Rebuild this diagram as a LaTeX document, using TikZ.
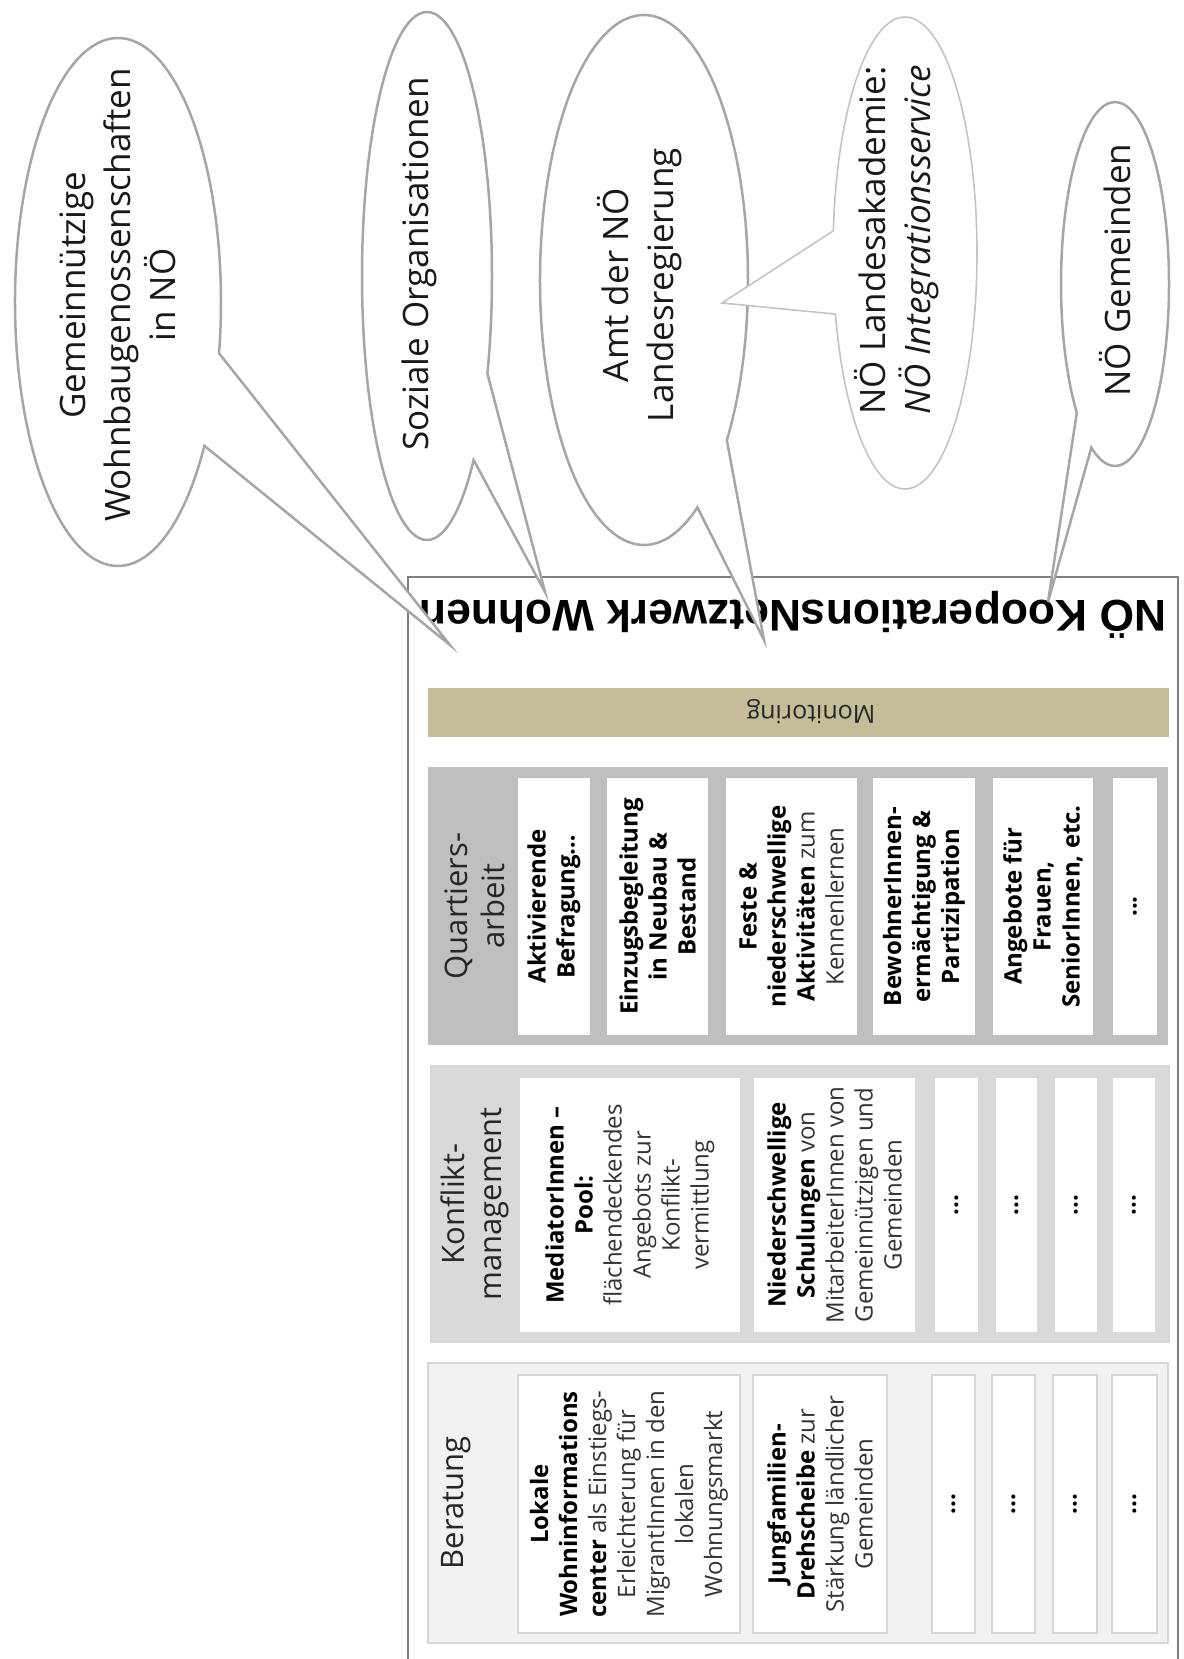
\documentclass[tikz,border=0pt]{standalone}
\usepackage{fontspec}
\setmainfont{Open Sans}
\newfontfamily\titlefont{Liberation Sans}
\usetikzlibrary{calc}
\definecolor{boxline}{HTML}{7F7F7F}
\definecolor{calloutline}{HTML}{A6A6A6}
\definecolor{calloutlight}{HTML}{C4C4C4}
\definecolor{monfill}{HTML}{C4BD97}
\definecolor{qfill}{HTML}{BFBFBF}
\definecolor{kfill}{HTML}{D9D9D9}
\definecolor{bfill}{HTML}{F2F2F2}
\definecolor{bline}{HTML}{D6D6D6}
\definecolor{celltext}{HTML}{333333}
\newcommand\mycell[7]{%
  \pgfmathsetmacro\mycellx{(#3+#5)/2}%
  \pgfmathsetmacro\mycelly{(#4+#6)/2}%
  \pgfmathsetmacro\mycellw{(#5-#3)*0.5}%
  \pgfmathsetmacro\mycellh{(#6-#4)*0.5}%
  \node[#1, minimum width=\mycellh pt, minimum height=\mycellw pt] (#2) at (\mycellx,\mycelly) {#7};}
\begin{document}
\begin{tikzpicture}[x=0.5pt,y=-0.5pt,
  cellbase/.style={rotate=90, inner sep=0pt, outer sep=0pt, align=center, fill=white,
    text=celltext, font=\fontsize{12}{14.5}\selectfont},
  qcell/.style={cellbase},
  kcell/.style={cellbase},
  bcell/.style={cellbase, draw=bline, line width=0.75pt},
  header/.style={rotate=90, align=center, inner sep=0pt, text=black!85,
    font=\fontsize{15.5}{18.5}\selectfont},
  callout/.style={draw=calloutline, line width=1.25pt, fill=white},
  calloutpale/.style={draw=calloutlight, line width=0.8pt, fill=white},
  callouttext/.style={rotate=90, align=center, inner sep=0pt, text=black!90,
    font=\fontsize{17.5}{22.5}\selectfont}]
\useasboundingbox (0,0) rectangle (1183,1659);
\clip (0,0) rectangle (1183,1659);
% main box
\draw[boxline, line width=1pt, fill=white] (408,577) rectangle (1178,1700);
\node[rotate=180, inner sep=0pt, font=\titlefont\bfseries\fontsize{22.2}{26}\selectfont] (title) at (793,615) {NÖ KooperationsNetzwerk Wohnen};
% monitoring
\fill[monfill] (428,688) rectangle (1169,737);
\node[rotate=180, inner sep=0pt, text=black!85, font=\fontsize{12.5}{15}\selectfont] (monitoring) at (811,712) {Monitoring};
% panels
\fill[qfill] (428,767) rectangle (1168,1045);
\fill[kfill] (430,1065) rectangle (1170,1343);
\filldraw[fill=bfill, draw=bline, line width=0.75pt] (428,1363) rectangle (1168,1643);
% headers
\node[header] (qhead) at (475,906) {Quartiers-\\arbeit};
\node[header] (khead) at (475,1204) {Konflikt-\\management};
\node[header] (bhead) at (456,1503) {Beratung};
% Quartiersarbeit cells
\mycell{qcell}{q1}{518}{778}{590}{1035}{\textbf{\color{black}Aktivierende}\\\textbf{\color{black}Befragung…}}
\mycell{qcell}{q2}{607}{778}{708}{1035}{\textbf{\color{black}Einzugsbegleitung}\\\textbf{\color{black}in Neubau \&}\\\textbf{\color{black}Bestand}}
\mycell{qcell}{q3}{726}{778}{857}{1035}{\textbf{\color{black}Feste \&}\\\textbf{\color{black}niederschwellige}\\\textbf{\color{black}Aktivitäten} zum\\Kennenlernen}
\mycell{qcell}{q4}{873}{778}{975}{1035}{\textbf{\color{black}BewohnerInnen-}\\\textbf{\color{black}ermächtigung \&}\\\textbf{\color{black}Partizipation}}
\mycell{qcell}{q5}{993}{778}{1093}{1035}{\textbf{\color{black}Angebote für}\\\textbf{\color{black}Frauen,}\\\textbf{\color{black}SeniorInnen, etc.}}
\mycell{qcell}{q6}{1113}{778}{1157}{1035}{\textbf{\color{black}...}}
% Konfliktmanagement cells
\mycell{kcell}{k1}{520}{1078}{740}{1332}{\textbf{\color{black}MediatorInnen –}\\\textbf{\color{black}Pool:}\\flächendeckendes\\Angebots zur\\Konflikt-\\vermittlung}
\mycell{kcell}{k2}{754}{1078}{915}{1332}{\textbf{\color{black}Niederschwellige}\\\textbf{\color{black}Schulungen} von\\MitarbeiterInnen von\\Gemeinnützigen und\\Gemeinden}
\mycell{kcell}{k3}{935}{1078}{978}{1332}{\textbf{\color{black}...}}
\mycell{kcell}{k4}{996}{1078}{1037}{1332}{\textbf{\color{black}...}}
\mycell{kcell}{k5}{1055}{1078}{1097}{1332}{\textbf{\color{black}...}}
\mycell{kcell}{k6}{1113}{1078}{1155}{1332}{\textbf{\color{black}...}}
% Beratung cells
\mycell{bcell}{b1}{518}{1375}{740}{1633}{\textbf{\color{black}Lokale}\\\textbf{\color{black}Wohninformations}\\\textbf{\color{black}center} als Einstiegs-\\Erleichterung für\\MigrantInnen in den\\lokalen\\Wohnungsmarkt}
\mycell{bcell}{b2}{753}{1375}{887}{1633}{\textbf{\color{black}Jungfamilien-}\\\textbf{\color{black}Drehscheibe} zur\\Stärkung ländlicher\\Gemeinden}
\mycell{bcell}{b3}{932}{1375}{975}{1633}{\textbf{\color{black}...}}
\mycell{bcell}{b4}{992}{1375}{1035}{1633}{\textbf{\color{black}...}}
\mycell{bcell}{b5}{1053}{1375}{1097}{1633}{\textbf{\color{black}...}}
\mycell{bcell}{b6}{1112}{1375}{1157}{1633}{\textbf{\color{black}...}}
% callouts
\coordinate (c1) at (118,302);  \coordinate (tip1) at (450,645);
\coordinate (c2) at (427,276);  \coordinate (tip2) at (545,592);
\coordinate (c3) at (644,280);  \coordinate (tip3) at (764,640);
\coordinate (c4) at (905,253);  \coordinate (tip4) at (722,303);
\coordinate (c5) at (1115,284); \coordinate (tip5) at (1048,602);
\draw[callout] (tip1) -- ($(c1)+(33:103 and 264)$) arc[start angle=33, end angle=371.2, x radius=103, y radius=264] -- cycle;
\draw[callout] (tip2) -- ($(c2)+(44.2:65 and 264)$) arc[start angle=44.2, end angle=381.7, x radius=65, y radius=264] -- cycle;
\draw[callout] (tip3) -- ($(c3)+(59.1:104 and 265)$) arc[start angle=59.1, end angle=397.2, x radius=104, y radius=265] -- cycle;
\draw[calloutpale] (tip4) -- ($(c4)+(185.4:72 and 236)$) arc[start angle=185.4, end angle=525, x radius=72, y radius=236] -- cycle;
\draw[callout] (tip5) -- ($(c5)+(135:54 and 182)$) arc[start angle=135, end angle=476, x radius=54, y radius=182] -- cycle;
% callout texts
\node[callouttext] (t1) at (118,295) {Gemeinnützige\\Wohnbaugenossenschaften\\in NÖ};
\node[callouttext] (t2) at (419,264) {Soziale Organisationen};
\node[callouttext] (t3) at (640,285) {Amt der NÖ\\Landesregierung};
\node[callouttext, align=left] (t4) at (897,240) {NÖ Landesakademie:\\\textit{NÖ Integrationsservice}};
\node[callouttext] (t5) at (1115,270) {NÖ Gemeinden};
\end{tikzpicture}
\end{document}
